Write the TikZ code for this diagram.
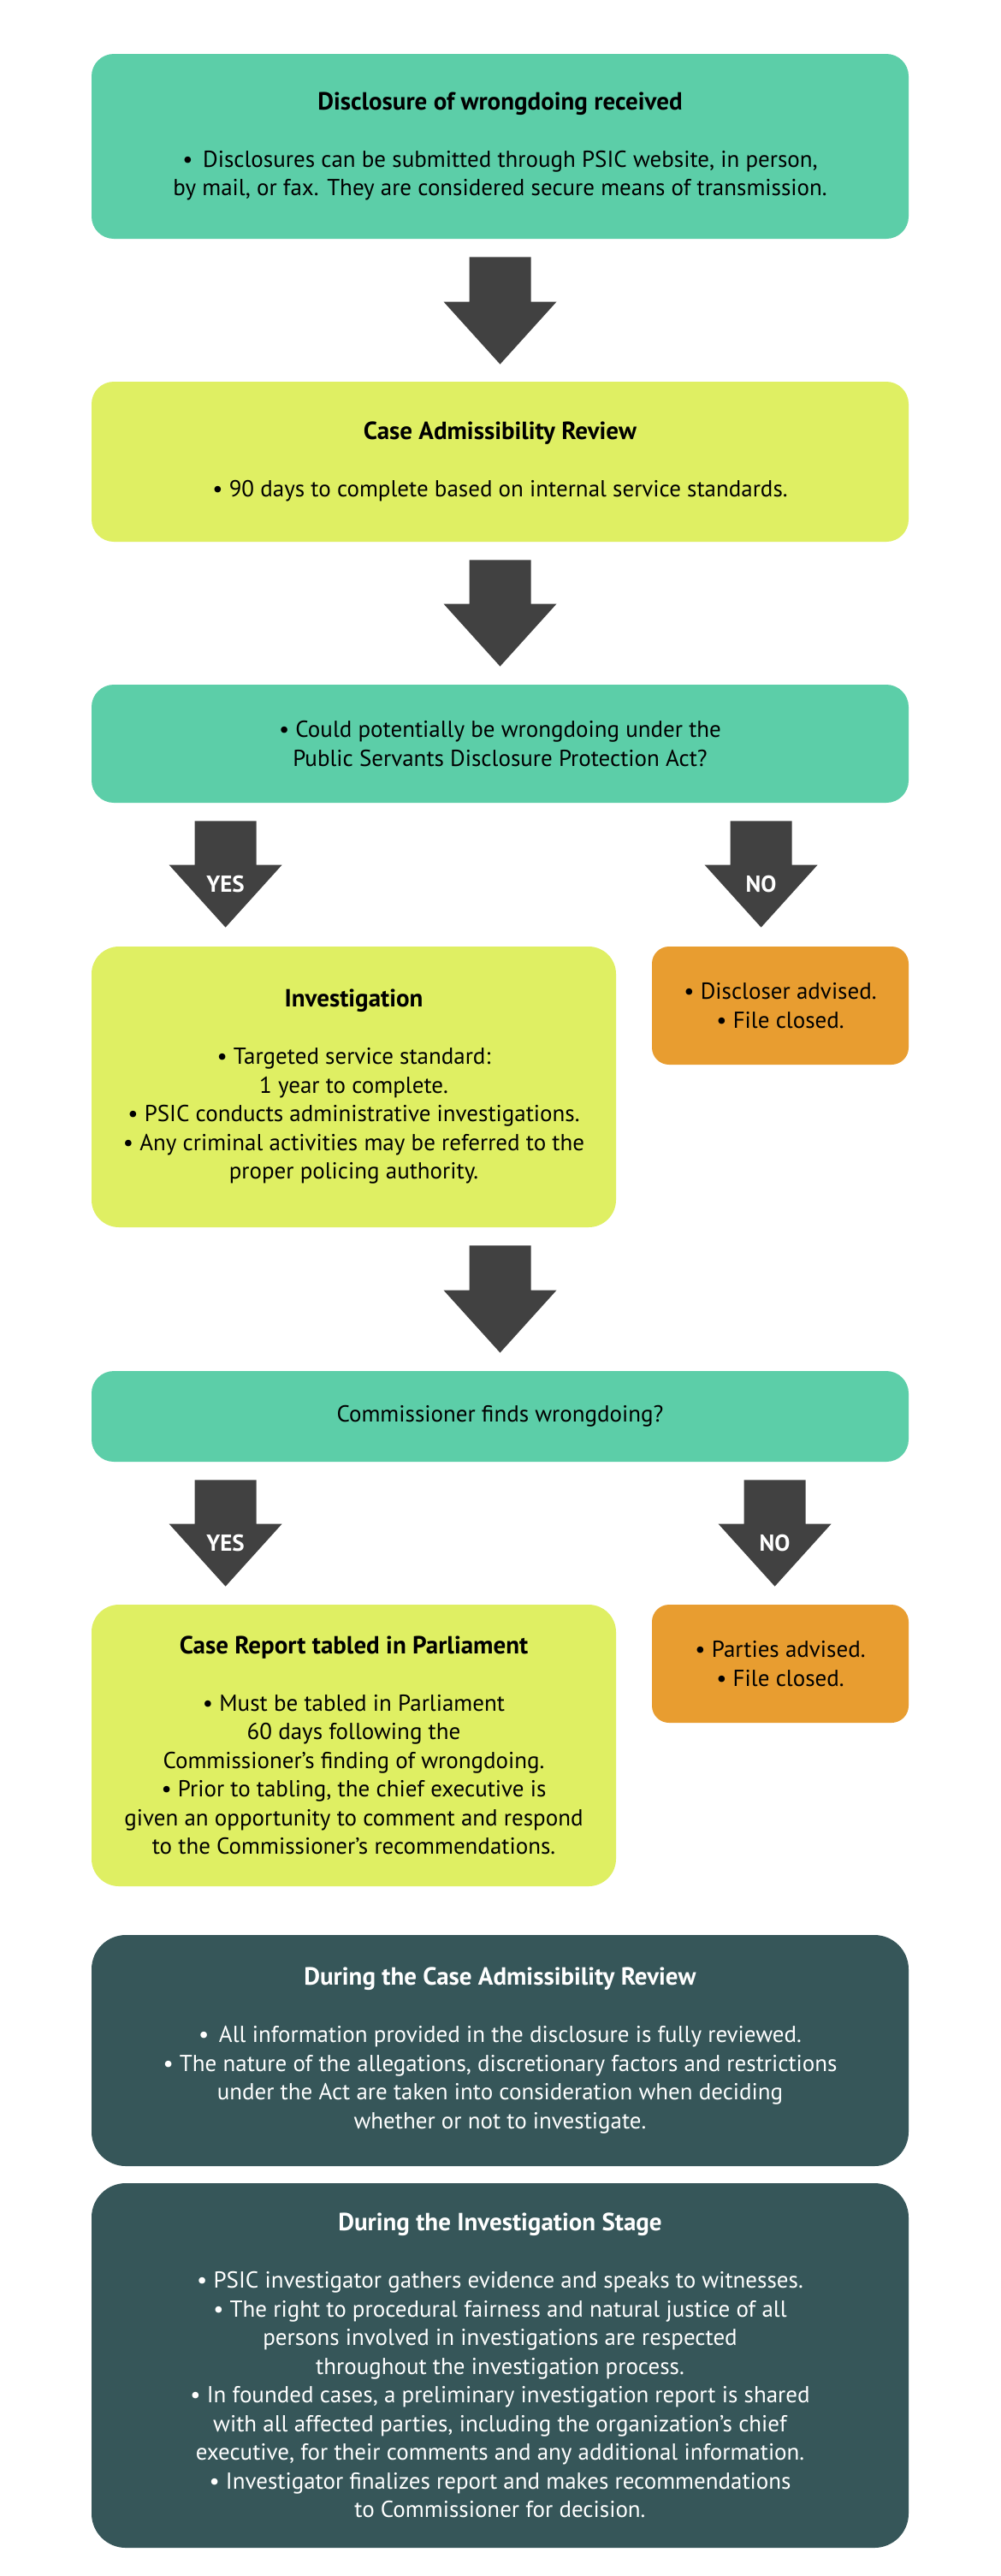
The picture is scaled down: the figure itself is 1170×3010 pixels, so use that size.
\documentclass[tikz,border=0pt]{standalone}
\usepackage{fontspec}
\setmainfont{PT Sans}
\usetikzlibrary{calc}
\definecolor{cTeal}{HTML}{5CCEA8}
\definecolor{cLime}{HTML}{DFEF63}
\definecolor{cOrange}{HTML}{E89D30}
\definecolor{cDark}{HTML}{365659}
\definecolor{cArrow}{HTML}{414141}
\newcommand\bigarrow[2]{%
  \fill[cArrow] ($(#1)+(-36,0)$) -- ($(#1)+(36,0)$) -- ($(#2)+(36,-73)$) -- ($(#2)+(66,-73)$) -- (#2) -- ($(#2)+(-66,-73)$) -- ($(#2)+(-36,-73)$) -- cycle;}
\newcommand\ttl[1]{{\fontsize{14.5pt}{16.75pt}\selectfont\textbf{#1}}}
\tikzset{
  box/.style={rounded corners=13pt, align=center, inner sep=0pt, text=black,
    font=\fontsize{13.5pt}{16.75pt}\selectfont},
  tealbox/.style={box, fill=cTeal},
  limebox/.style={box, fill=cLime},
  orangebox/.style={box, fill=cOrange},
  darkbox/.style={box, fill=cDark, text=white, rounded corners=20pt},
  arrowlabel/.style={text=white, font=\bfseries\fontsize{13.5pt}{16pt}\selectfont, inner sep=0pt}
}
\begin{document}
\begin{tikzpicture}[x=0.5pt,y=-0.5pt]
\fill[white] (0,0) rectangle (1170,3010);
\useasboundingbox (0,0) rectangle (1170,3010);

\node[tealbox, minimum width=477.5pt, minimum height=108pt] (b1) at (584.5,171)
  {\ttl{Disclosure of wrongdoing received}\\[16.75pt]
   •\, Disclosures can be submitted through PSIC website, in person,\\
   by mail, or fax. They are considered secure means of transmission.};

\node[limebox, minimum width=477.5pt, minimum height=93.5pt] (b2) at (584.5,539.5)
  {\ttl{Case Admissibility Review}\\[16.75pt]
   • 90 days to complete based on internal service standards.};

\node[tealbox, minimum width=477.5pt, minimum height=69pt] (b3) at (584.5,869)
  {• Could potentially be wrongdoing under the\\
   Public Servants Disclosure Protection Act?};

\node[limebox, rounded corners=16pt, minimum width=306.5pt, minimum height=164pt] (inv) at (413.5,1270)
  {\ttl{Investigation}\\[16.75pt]
   • Targeted service standard:\\
   1 year to complete.\\
   • PSIC conducts administrative investigations.\\
   • Any criminal activities may be referred to the\\
   proper policing authority.};

\node[orangebox, rounded corners=10pt, minimum width=150pt, minimum height=69pt] (o1) at (912,1175)
  {• Discloser advised.\\
   • File closed.};

\node[tealbox, minimum width=477.5pt, minimum height=53pt] (b5) at (584.5,1655)
  {Commissioner finds wrongdoing?};

\node[limebox, rounded corners=16pt, minimum width=306.5pt, minimum height=164.5pt] (rep) at (413.5,2039.5)
  {\ttl{Case Report tabled in Parliament}\\[16.75pt]
   • Must be tabled in Parliament\\
   60 days following the\\
   Commissioner’s finding of wrongdoing.\\
   • Prior to tabling, the chief executive is\\
   given an opportunity to comment and respond\\
   to the Commissioner’s recommendations.};

\node[orangebox, rounded corners=10pt, minimum width=150pt, minimum height=69pt] (o2) at (912,1944)
  {• Parties advised.\\
   • File closed.};

\node[darkbox, minimum width=477.5pt, minimum height=135pt] (d1) at (584.5,2396)
  {\ttl{During the Case Admissibility Review}\\[16.75pt]
   •\, All information provided in the disclosure is fully reviewed.\\
   • The nature of the allegations, discretionary factors and restrictions\\
   under the Act are taken into consideration when deciding\\
   whether or not to investigate.};

\node[darkbox, minimum width=477.5pt, minimum height=213pt] (d2) at (584.5,2764)
  {\ttl{During the Investigation Stage}\\[16.75pt]
   • PSIC investigator gathers evidence and speaks to witnesses.\\
   • The right to procedural fairness and natural justice of all\\
   persons involved in investigations are respected\\
   throughout the investigation process.\\
   • In founded cases, a preliminary investigation report is shared\\
   with all affected parties, including the organization’s chief\\
   executive, for their comments and any additional information.\\
   • Investigator finalizes report and makes recommendations\\
   to Commissioner for decision.};

% arrows
\coordinate (a1s) at ($(b1.south)+(0,21)$);
\coordinate (a1t) at ($(b2.north)+(0,-20)$);
\bigarrow{a1s}{a1t}
\coordinate (a2s) at ($(b2.south)+(0,21)$);
\coordinate (a2t) at ($(b3.north)+(0,-21)$);
\bigarrow{a2s}{a2t}
\coordinate (y1s) at ($(b3.south west)+(157,21)$);
\coordinate (y1t) at ($(inv.north west)+(157,-22)$);
\bigarrow{y1s}{y1t}
\coordinate (n1s) at ($(b3.south west)+(783,21)$);
\coordinate (n1t) at ($(o1.north west)+(128,-22)$);
\bigarrow{n1s}{n1t}
\node[arrowlabel] (y1l) at ($(y1t)+(0,-51)$) {YES};
\node[arrowlabel] (n1l) at ($(n1t)+(0,-51)$) {NO};
\coordinate (a3s) at ($(inv.south)+(171,21)$);
\coordinate (a3t) at ($(b5.north)+(0,-21)$);
\bigarrow{a3s}{a3t}
\coordinate (y2s) at ($(b5.south west)+(157,21)$);
\coordinate (y2t) at ($(rep.north west)+(157,-21)$);
\bigarrow{y2s}{y2t}
\coordinate (n2s) at ($(b5.south west)+(799,21)$);
\coordinate (n2t) at ($(o2.north west)+(144,-21)$);
\bigarrow{n2s}{n2t}
\node[arrowlabel] (y2l) at ($(y2t)+(0,-51)$) {YES};
\node[arrowlabel] (n2l) at ($(n2t)+(0,-51)$) {NO};
\end{tikzpicture}
\end{document}
